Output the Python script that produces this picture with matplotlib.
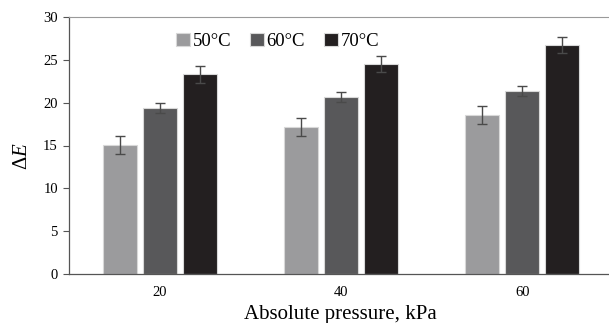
import matplotlib
matplotlib.use("Agg")
import matplotlib.pyplot as plt
import numpy as np

categories = ["20", "40", "60"]
series_names = ["50°C", "60°C", "70°C"]
values_50 = [15.1, 17.2, 18.6]
values_60 = [19.4, 20.7, 21.4]
values_70 = [23.3, 24.5, 26.7]
err_50 = [1.05, 1.05, 1.05]
err_60 = [0.6, 0.6, 0.6]
err_70 = [1.0, 0.95, 0.95]
colors = ["#9b9b9d", "#58585a", "#231f20"]

plt.rcParams['font.family'] = ['Liberation Serif', 'DejaVu Serif']
plt.rcParams['mathtext.fontset'] = 'custom'
plt.rcParams['mathtext.rm'] = 'Liberation Serif'
plt.rcParams['mathtext.it'] = 'Liberation Serif:italic'

fig = plt.figure(figsize=(6.09, 3.23), dpi=100)
ax = fig.add_axes([69/609, 49/323, 1 - 69/609 + 0.006, (274-17)/323])

x = np.arange(len(categories))
pitch = 0.221
width = 0.188
for i, (vals, errs, name, c) in enumerate(zip([values_50, values_60, values_70],
                                              [err_50, err_60, err_70],
                                              series_names, colors)):
    ax.bar(x + (i - 1) * pitch, vals, width, color=c, edgecolor="#d8d8d8",
           linewidth=0.8, label=name, zorder=2,
           yerr=errs, error_kw=dict(ecolor="#4a4a4a", elinewidth=1.0, capsize=3.5, capthick=1.0))

ax.set_xlim(-0.503, 2.5)
ax.set_ylim(0, 30)
ax.set_yticks(range(0, 31, 5))
ax.set_xticks(x)
ax.set_xticklabels(categories)
ax.tick_params(axis='x', length=0, pad=9, labelsize=10.5)
ax.tick_params(axis='y', length=4, width=0.8, color="#555555", pad=4, labelsize=10.5)

ax.spines["right"].set_visible(False)
ax.spines["top"].set_color("#9a9a9a")
ax.spines["top"].set_linewidth(0.8)
ax.spines["left"].set_color("#555555")
ax.spines["bottom"].set_color("#555555")
ax.spines["left"].set_linewidth(0.9)
ax.spines["bottom"].set_linewidth(0.9)

ax.set_ylabel(r"$\Delta\mathit{E}$", fontsize=15)
ax.yaxis.set_label_coords(-0.068, 0.46)
ax.set_xlabel("Absolute pressure, kPa", fontsize=15, labelpad=4)

leg = ax.legend(loc="upper left", bbox_to_anchor=(0.165, 1.005), ncol=3, frameon=False,
                fontsize=13.5, handlelength=0.75, handleheight=0.75, handletextpad=0.15,
                columnspacing=1.0)

fig.savefig("out.png", dpi=100)
